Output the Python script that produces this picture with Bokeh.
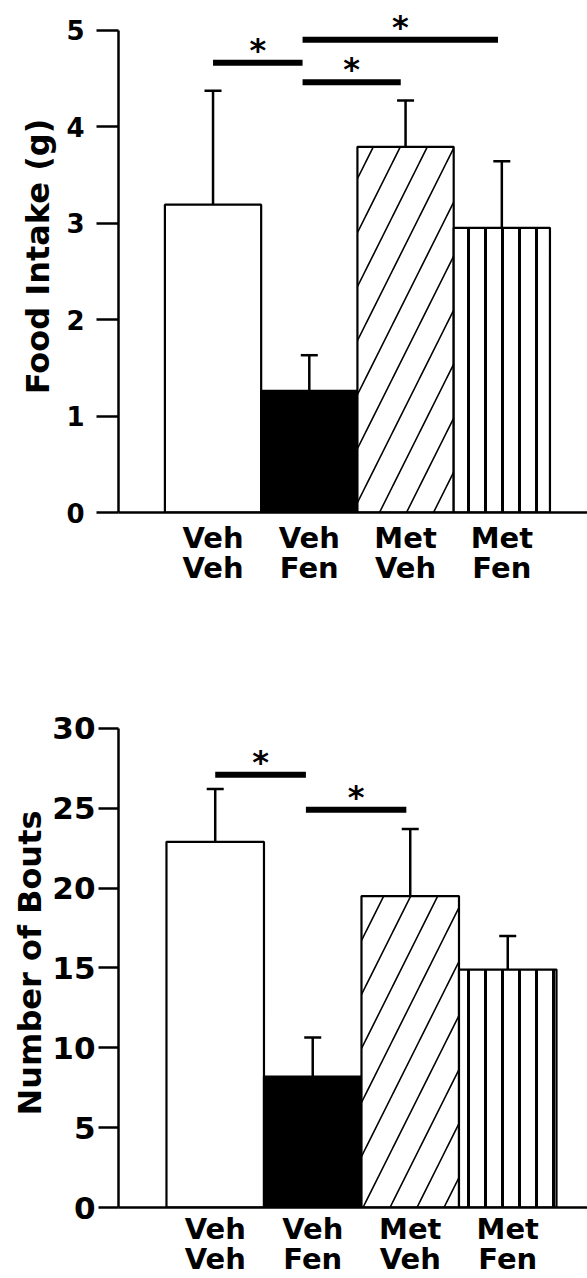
from bokeh.plotting import figure
from bokeh.models import ColumnDataSource, Whisker, TeeHead, FixedTicker, Range1d
from bokeh.layouts import column
from bokeh.embed import file_html
from bokeh.resources import INLINE
from bokeh.core.properties import value

# ---- data ----
group_labels = ["Veh\nVeh", "Veh\nFen", "Met\nVeh", "Met\nFen"]
group_pos = [1, 2, 3, 4]

food_mean = [3.19, 1.26, 3.79, 2.95]
food_upper = [4.37, 1.63, 4.27, 3.64]
food_sig_x0 = [1.0, 1.93, 1.93]
food_sig_x1 = [1.93, 3.96, 2.95]
food_sig_y = [4.66, 4.90, 4.46]
food_ticks = [0, 1, 2, 3, 4, 5]

bouts_mean = [22.9, 8.2, 19.5, 14.9]
bouts_upper = [26.2, 10.65, 23.7, 17.0]
bouts_sig_x0 = [1.0, 1.93]
bouts_sig_x1 = [1.93, 2.96]
bouts_sig_y = [27.1, 24.9]
bouts_ticks = [0, 5, 10, 15, 20, 25, 30]

# ---- styles ----
FONT_NAME = "DejaVu Sans"
FONT = value(FONT_NAME)
bar_fill = ["white", "black", "white", "white"]
bar_hatch = [" ", " ", "/", "|"]
bar_hatch_scale = [12, 12, 54, 17]
bar_hatch_weight = [1, 1, 1.6, 3]


def panel(mean, upper, sx0, sx1, sy, ticks, ylabel, height, xr, yr, bleft, btop,
          bbottom, tick_len, tick_font, tick_standoff, ymax_axis, xlab_standoff,
          label_standoff):
    p = figure(width=587, height=height, output_backend="svg", toolbar_location=None,
               x_range=Range1d(*xr), y_range=Range1d(*yr),
               min_border_left=bleft, min_border_right=0, min_border_top=btop,
               min_border_bottom=bbottom)
    p.outline_line_color = None
    p.xgrid.visible = False
    p.ygrid.visible = False
    p.background_fill_color = "white"

    src = ColumnDataSource(dict(x=group_pos, top=mean, upper=upper, fill=bar_fill,
                                hatch=bar_hatch, hscale=bar_hatch_scale,
                                hweight=bar_hatch_weight))
    p.vbar(x="x", top="top", bottom=0, width=1.0, source=src, fill_color="fill",
           line_color="black", line_width=2.2, hatch_pattern="hatch",
           hatch_scale="hscale", hatch_weight="hweight", hatch_color="black")
    p.add_layout(Whisker(source=src, base="x", upper="upper", lower="top",
                         line_width=2.5, line_color="black",
                         upper_head=TeeHead(size=17, line_width=2.5, line_color="black"),
                         lower_head=None))

    sig = ColumnDataSource(dict(x0=sx0, x1=sx1, y=sy,
                                xm=[(a + b) / 2 for a, b in zip(sx0, sx1)],
                                star=["*"] * len(sy)))
    p.segment(x0="x0", y0="y", x1="x1", y1="y", source=sig, line_width=6,
              line_color="black", line_cap="butt")
    p.text(x="xm", y="y", text="star", source=sig, text_font=FONT,
           text_font_style="bold", text_font_size="32px", text_align="center",
           text_baseline="alphabetic", y_offset=-13, text_color="black")

    # x axis
    xa = p.xaxis[0]
    xa.ticker = FixedTicker(ticks=group_pos)
    xa.major_label_overrides = {k: v for k, v in zip(group_pos, group_labels)}
    xa.major_tick_out = 0
    xa.major_tick_in = 0
    xa.minor_tick_out = 0
    xa.minor_tick_in = 0
    xa.axis_line_width = 2.5
    xa.major_label_text_font = FONT_NAME
    xa.major_label_text_font_style = "bold"
    xa.major_label_text_font_size = "29px"
    xa.major_label_text_line_height = 0.89
    xa.major_label_text_color = "black"
    xa.major_label_standoff = xlab_standoff

    # y axis
    ya = p.yaxis[0]
    ya.ticker = FixedTicker(ticks=ticks)
    ya.bounds = (0, ymax_axis)
    ya.major_tick_out = tick_len
    ya.major_tick_in = 0
    ya.minor_tick_out = 0
    ya.minor_tick_in = 0
    ya.axis_line_width = 2.5
    ya.major_tick_line_width = 2.5
    ya.major_label_text_font = FONT_NAME
    ya.major_label_text_font_style = "bold"
    ya.major_label_text_font_size = tick_font
    ya.major_label_text_color = "black"
    ya.major_label_standoff = tick_standoff
    ya.axis_label = ylabel
    ya.axis_label_text_font = FONT_NAME
    ya.axis_label_text_font_style = "bold"
    ya.axis_label_text_font_size = "32px"
    ya.axis_label_text_color = "black"
    ya.axis_label_standoff = label_standoff
    return p


p1 = panel(food_mean, food_upper, food_sig_x0, food_sig_x1, food_sig_y, food_ticks,
           "Food Intake (g)", height=608, xr=(0.018, 4.89), yr=(0, 5.306),
           bleft=112, btop=0, bbottom=96, tick_len=22, tick_font="26px",
           tick_standoff=12, ymax_axis=5, xlab_standoff=8, label_standoff=6)

p2 = panel(bouts_mean, bouts_upper, bouts_sig_x0, bouts_sig_x1, bouts_sig_y, bouts_ticks,
           "Number of Bouts", height=670, xr=(0.008, 4.818), yr=(0, 30.62),
           bleft=118, btop=110, bbottom=71, tick_len=20, tick_font="31px",
           tick_standoff=3, ymax_axis=30, xlab_standoff=4, label_standoff=0)

layout = column(p1, p2, spacing=0)
open("out.html", "w").write(file_html(layout, INLINE))
